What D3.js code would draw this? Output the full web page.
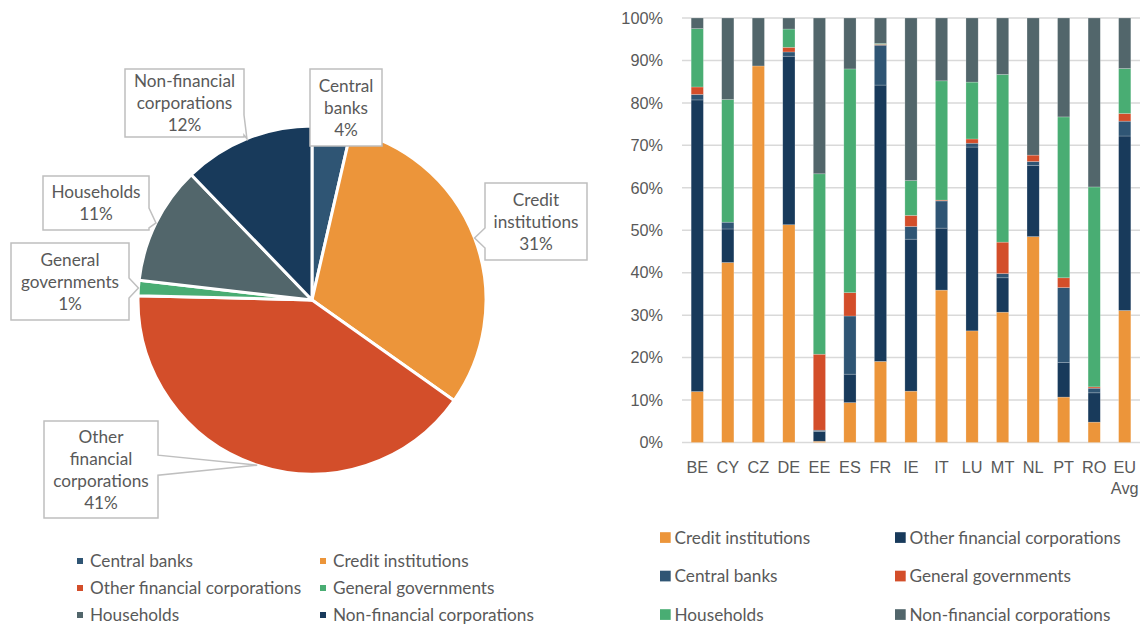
<!DOCTYPE html>
<html>
<head>
<meta charset="utf-8">
<script src="https://cdn.jsdelivr.net/npm/d3@7"></script>
<style>
  html, body { margin: 0; padding: 0; background: #fff; }
  svg { display: block; font-family: Lato, "Open Sans", sans-serif; }
  text { fill: #595959; }
</style>
</head>
<body>
<svg id="chart" width="1142" height="625"></svg>
<script>
// ---- Pie: holdings by sector (shares, %) ----
const pieSectors = ["Central banks", "Credit institutions", "Other financial corporations",
                    "General governments", "Households", "Non-financial corporations"];
const pieShares = [3.6, 31.2, 40.6, 1.4, 11.0, 12.2];
const pieColors = ["#2f5574", "#ec953a", "#d34e2a", "#49ad73", "#52666b", "#183a5b"];

// ---- Stacked bars: holder breakdown by country (%) ----
const countries = ["BE", "CY", "CZ", "DE", "EE", "ES", "FR", "IE", "IT", "LU", "MT", "NL", "PT", "RO", "EU Avg"];
const barSeries = ["Credit institutions", "Other financial corporations", "Central banks",
                   "General governments", "Households", "Non-financial corporations"];
const creditInstitutions = [12.0, 42.4, 88.7, 51.3, 0.3, 9.4, 19.1, 12.1, 35.9, 26.3, 30.7, 48.5, 10.7, 4.8, 31.1];
const otherFinancial     = [68.7, 7.9, 0, 39.7, 2.3, 6.7, 65.1, 35.8, 14.6, 43.3, 8.1, 16.8, 8.1, 6.9, 41.1];
const centralBanks       = [1.3, 1.6, 0, 1.0, 0.3, 13.7, 9.4, 3.0, 6.4, 0.9, 1.0, 0.9, 17.7, 1.1, 3.5];
const generalGovernments = [1.75, 0, 0, 1.1, 17.9, 5.5, 0.2, 2.6, 0.2, 1.0, 7.4, 1.5, 2.3, 0.3, 1.8];
const households         = [13.75, 28.9, 0, 4.3, 42.5, 52.7, 0.2, 8.2, 28.1, 13.4, 39.5, 0, 37.9, 47.1, 10.6];
const nonFinancial       = [2.5, 19.2, 11.3, 2.6, 36.7, 12.0, 6.0, 38.3, 14.8, 15.1, 13.3, 32.3, 23.3, 39.8, 11.9];
const barColors = ["#ec953a", "#183a5b", "#2f5574", "#d34e2a", "#49ad73", "#52666b"];
const yTicks = [0, 0.1, 0.2, 0.3, 0.4, 0.5, 0.6, 0.7, 0.8, 0.9, 1.0];

const svg = d3.select("#chart");
const FONT = 17.2;      // labels and legends
const AXIS_FONT = 16.3; // axis tick labels

// ================= PIE =================
const cx = 312, cy = 300, R = 174;
const pieData = pieSectors.map((s, i) => ({ sector: s, value: pieShares[i], color: pieColors[i] }));
const arcs = d3.pie().sort(null).value(d => d.value)(pieData);
const arc = d3.arc().innerRadius(0).outerRadius(R);

const pieG = svg.append("g").attr("transform", `translate(${cx},${cy})`);
pieG.selectAll("path.slice").data(arcs).join("path")
  .attr("class", "slice")
  .attr("d", arc)
  .attr("fill", d => d.data.color)
  .attr("stroke", "#fff")
  .attr("stroke-width", 3)
  .attr("stroke-linejoin", "round");

// Callout boxes (label lines and box placement per slice)
const callouts = [
  { lines: ["Central", "banks"], box: [310, 69, 72, 77] },
  { lines: ["Credit", "institutions"], box: [485, 183, 102, 77] },
  { lines: ["Other", "financial", "corporations"], box: [44, 421, 114, 97] },
  { lines: ["General", "governments"], box: [11, 243, 118, 77] },
  { lines: ["Households"], box: [43, 176, 106, 54] },
  { lines: ["Non-financial", "corporations"], box: [125, 69, 119, 68] }
];
const pct = d3.format(".0%");

function calloutPath(b, tip) {
  const [x, y, w, h] = b;
  const x2 = x + w, y2 = y + h, hw = 10;
  const inside = tip[0] >= x && tip[0] <= x2 && tip[1] >= y && tip[1] <= y2;
  const clamp = (v, a, c) => Math.max(a, Math.min(c, v));
  if (inside) return `M${x},${y}H${x2}V${y2}H${x}Z`;
  if (tip[0] > x2) {
    const c = clamp(tip[1], y + hw + 2, y2 - hw - 2);
    return `M${x},${y}H${x2}V${c - hw}L${tip[0]},${tip[1]}L${x2},${c + hw}V${y2}H${x}Z`;
  }
  if (tip[0] < x) {
    const c = clamp(tip[1], y + hw + 2, y2 - hw - 2);
    return `M${x},${y}H${x2}V${y2}H${x}V${c + hw}L${tip[0]},${tip[1]}L${x},${c - hw}Z`;
  }
  if (tip[1] > y2) {
    const c = clamp(tip[0], x + hw + 2, x2 - hw - 2);
    return `M${x},${y}H${x2}V${y2}H${c + hw}L${tip[0]},${tip[1]}L${c - hw},${y2}H${x}Z`;
  }
  const c = clamp(tip[0], x + hw + 2, x2 - hw - 2);
  return `M${x},${y}H${c - hw}L${tip[0]},${tip[1]}L${c + hw},${y}H${x2}V${y2}H${x}Z`;
}

const labelG = svg.append("g");
arcs.forEach((a, i) => {
  const co = callouts[i];
  const mid = (a.startAngle + a.endAngle) / 2;
  const tip = [cx + R * Math.sin(mid), cy - R * Math.cos(mid)];
  labelG.append("path")
    .attr("d", calloutPath(co.box, tip))
    .attr("fill", "#fff")
    .attr("stroke", "#bfbfbf")
    .attr("stroke-width", 1.5);
  const lines = co.lines.concat([pct(a.data.value / 100)]);
  const lh = 22;
  const [bx, by, bw, bh] = co.box;
  const startY = by + bh / 2 - (lines.length - 1) * lh / 2;
  const t = labelG.append("text")
    .attr("text-anchor", "middle")
    .attr("font-size", FONT);
  lines.forEach((ln, k) => {
    t.append("tspan").attr("x", bx + bw / 2).attr("y", startY + k * lh).attr("dy", "0.35em").text(ln);
  });
});

// Pie legend
const pieLegend = svg.append("g");
pieData.forEach((d, i) => {
  const col = i % 2, row = Math.floor(i / 2);
  const mx = col === 0 ? 77 : 320;
  const my = 561 + row * 27;
  pieLegend.append("rect").attr("x", mx).attr("y", my - 3).attr("width", 6).attr("height", 6).attr("fill", d.color);
  pieLegend.append("text").attr("x", mx + 13).attr("y", my).attr("dy", "0.35em")
    .attr("font-size", FONT).text(d.sector);
});

// ================= STACKED BARS =================
const seriesValues = [creditInstitutions, otherFinancial, centralBanks, generalGovernments, households, nonFinancial];
const rows = countries.map((c, i) => {
  const r = { country: c };
  barSeries.forEach((s, k) => { r[s] = seriesValues[k][i] / 100; });
  return r;
});
const stacked = d3.stack().keys(barSeries)(rows);

const x = d3.scaleBand().domain(countries).range([682, 1140]).paddingInner(0.6).paddingOuter(0.3);
const y = d3.scaleLinear().domain([0, 1]).range([442.5, 18]);

const barG = svg.append("g");
// gridlines
barG.selectAll("line.grid").data(yTicks).join("line")
  .attr("class", "grid")
  .attr("x1", 682).attr("x2", 1140)
  .attr("y1", d => y(d)).attr("y2", d => y(d))
  .attr("stroke", "#d9d9d9").attr("stroke-width", 1.5);

barG.selectAll("g.series").data(stacked).join("g")
  .attr("class", "series")
  .attr("fill", (d, i) => barColors[i])
  .selectAll("rect").data(d => d).join("rect")
  .attr("x", d => x(d.data.country))
  .attr("width", x.bandwidth())
  .attr("y", d => y(d[1]))
  .attr("height", d => Math.max(0, y(d[0]) - y(d[1])))
  .attr("stroke", "#fff").attr("stroke-opacity", 0.35).attr("stroke-width", 0.6);

// y axis
const yAxis = d3.axisLeft(y).tickValues(yTicks).tickFormat(d3.format(".0%")).tickSize(0).tickPadding(0);
const yG = svg.append("g").attr("transform", "translate(663,0)").call(yAxis);
yG.select(".domain").remove();
yG.selectAll("text").attr("font-size", AXIS_FONT).attr("font-family", null).attr("fill", "#595959");

// x axis
const xAxis = d3.axisBottom(x).tickSize(0).tickPadding(0);
const xG = svg.append("g").attr("transform", "translate(0,461)").call(xAxis);
xG.select(".domain").remove();
xG.selectAll(".tick text").each(function (d) {
  const t = d3.select(this).text(null).attr("font-size", AXIS_FONT).attr("font-family", null).attr("fill", "#595959");
  d.split(" ").forEach((w, k) => {
    t.append("tspan").attr("x", 0).attr("y", k * 21).attr("dy", "0.71em").text(w);
  });
});

// Bar legend
const barLegend = svg.append("g");
barSeries.forEach((s, i) => {
  const col = i % 2, row = Math.floor(i / 2);
  const mx = col === 0 ? 660 : 895;
  const my = 537.5 + row * 38.5;
  barLegend.append("rect").attr("x", mx).attr("y", my - 5.3).attr("width", 10.7).attr("height", 10.7).attr("fill", barColors[i]);
  barLegend.append("text").attr("x", mx + 14.5).attr("y", my).attr("dy", "0.35em")
    .attr("font-size", FONT).text(s);
});
</script>
</body>
</html>
